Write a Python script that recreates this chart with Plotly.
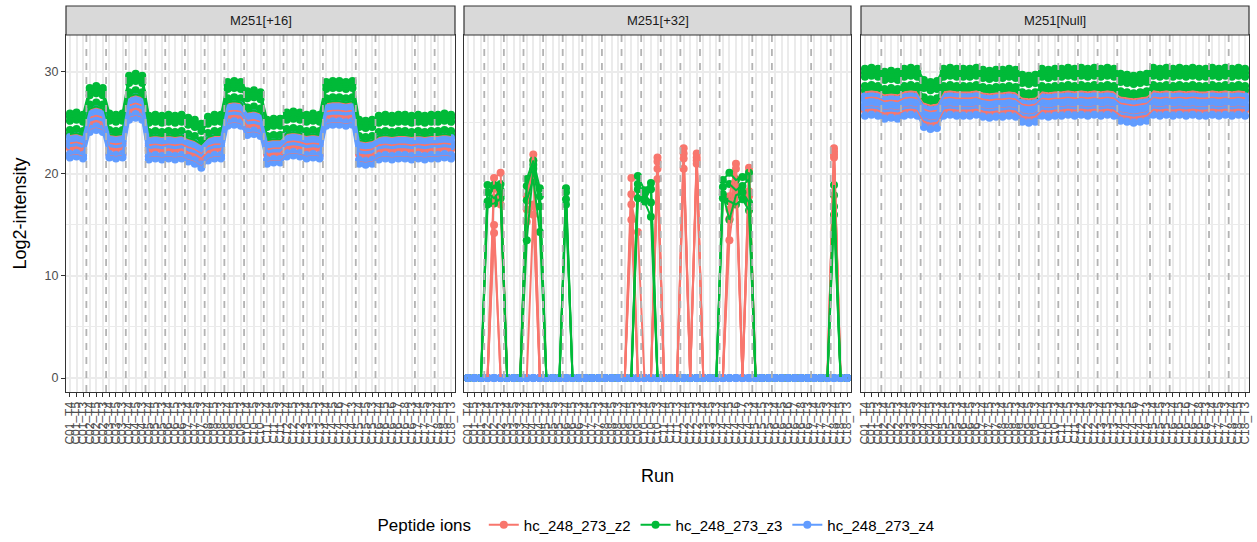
import plotly.graph_objects as go

# Runs in acquisition order (condition, then replicate)
run_labels = [
    "C01_T4", "C01_T5", "C01_T3",
    "C02_T4", "C02_T5", "C02_T3",
    "C03_T4", "C03_T5", "C03_T3",
    "C04_T4", "C04_T5", "C04_T3",
    "C05_T4", "C05_T5", "C05_T3",
    "C06_T4", "C06_T5", "C06_T3",
    "C07_T4", "C07_T5", "C07_T3",
    "C08_T4", "C08_T5", "C08_T3",
    "C09_T4", "C09_T5", "C09_T3",
    "C10_T4", "C10_T5", "C10_T3",
    "C11_T4", "C11_T5", "C11_T3",
    "C12_T4", "C12_T5", "C12_T3",
    "C13_T4", "C13_T5", "C13_T3",
    "C14_T4", "C14_T5", "C14_T6", "C14_T7", "C14_T3",
    "C15_T4", "C15_T5", "C15_T3",
    "C16_T4", "C16_T5", "C16_T6", "C16_T7", "C16_T8", "C16_T3",
    "C17_T4", "C17_T5", "C17_T3",
    "C18_T4", "C18_T5", "C18_T3",
]
runs_per_condition = [3, 3, 3, 3, 3, 3, 3, 3, 3, 3, 3, 3, 3, 5, 3, 6, 3, 3]

ions = ["hc_248_273_z2", "hc_248_273_z3", "hc_248_273_z4"]
ion_colors = ["#F8766D", "#00BA38", "#619CFF"]
panel_titles = ["M251[+16]", "M251[+32]", "M251[Null]"]

# ---- M251[+16]: feature baselines per ion and run-level shift ----
m16_levels = {
    "hc_248_273_z2": [23.8, 23.0, 22.5, 21.9],
    "hc_248_273_z3": [25.9, 25.6, 25.2, 24.3, 23.9],
    "hc_248_273_z4": [23.6, 23.2, 22.8, 21.95, 21.6],
}
m16_run_shift = [
    0.0, 0.1, -0.1,
    2.5, 2.7, 2.5,
    0.0, -0.1, 0.0,
    3.7, 3.9, 3.7,
    -0.2, -0.1, -0.2,
    -0.1, -0.2, -0.1,
    -0.4, -0.6, -1.0,
    -0.3, -0.1, -0.1,
    3.1, 3.2, 3.1,
    2.2, 2.3, 2.1,
    -0.6, -0.5, -0.5,
    0.1, 0.2, 0.1,
    -0.1, 0.0, -0.1,
    3.1, 3.2, 3.2, 3.1, 3.2,
    -0.6, -0.7, -0.6,
    -0.2, -0.1, -0.2, -0.1, -0.1, -0.2,
    -0.1, -0.2, -0.1,
    -0.1, 0.0, -0.1,
]

# ---- M251[Null]: feature baselines per ion and run-level shift ----
null_levels = {
    "hc_248_273_z2": [28.0, 27.4, 26.5, 26.2],
    "hc_248_273_z3": [30.3, 29.9, 29.5, 28.6, 28.2],
    "hc_248_273_z4": [27.6, 27.2, 26.8, 26.45, 25.7],
}
null_run_shift = [
    0.0, 0.1, 0.0,
    -0.3, -0.2, -0.3,
    0.0, 0.1, 0.0,
    -1.1, -1.3, -1.2,
    0.0, 0.1, 0.0,
    0.0, 0.0, 0.1,
    -0.1, -0.2, -0.1,
    -0.1, 0.0, -0.1,
    -0.6, -0.7, -0.6,
    0.0, -0.1, 0.0,
    0.0, 0.1, 0.0,
    0.1, 0.0, 0.1,
    0.0, 0.1, 0.0,
    -0.5, -0.6, -0.7, -0.6, -0.5,
    0.1, 0.0, 0.1,
    0.0, 0.1, 0.0, 0.1, 0.0, 0.0,
    0.1, 0.0, 0.1,
    0.0, 0.1, 0.0,
]

# ---- M251[+32]: detected intensities only (all other runs are 0) ----
m32_z2 = [
    {"C02_T5": 19.6, "C02_T3": 20.1, "C04_T4": 17.8, "C04_T5": 21.9, "C09_T5": 19.6,
     "C10_T3": 21.6, "C12_T4": 22.5, "C12_T3": 22.0, "C14_T5": 17.8, "C14_T6": 21.0,
     "C14_T3": 20.6, "C18_T4": 22.5},
    {"C02_T5": 18.8, "C02_T3": 17.0, "C04_T4": 16.5, "C04_T5": 21.3, "C09_T5": 18.0,
     "C10_T3": 21.2, "C12_T4": 22.0, "C12_T3": 21.6, "C14_T5": 16.5, "C14_T6": 20.5,
     "C14_T3": 20.2, "C18_T4": 22.2},
    {"C02_T5": 15.0, "C04_T4": 15.3, "C04_T5": 17.0, "C09_T5": 17.0, "C09_T3": 14.3,
     "C10_T3": 20.5, "C12_T4": 21.5, "C12_T3": 21.3, "C14_T5": 15.6, "C14_T6": 19.5,
     "C14_T3": 18.3, "C18_T4": 21.9},
    {"C02_T5": 14.2, "C04_T5": 16.0, "C09_T5": 15.5, "C10_T3": 19.5, "C12_T4": 20.5,
     "C12_T3": 21.0, "C14_T5": 13.5, "C14_T6": 18.8, "C14_T3": 17.8, "C18_T4": 21.6},
]
m32_z3 = [
    {"C02_T4": 18.9, "C02_T5": 18.6, "C02_T3": 19.0, "C04_T4": 19.5, "C04_T5": 21.3,
     "C04_T3": 18.6, "C06_T4": 18.6, "C09_T3": 19.8, "C10_T4": 18.4, "C10_T5": 19.1,
     "C14_T4": 19.4, "C14_T5": 20.1, "C14_T6": 19.4, "C14_T7": 19.7, "C14_T3": 20.1,
     "C18_T4": 18.9},
    {"C02_T4": 17.3, "C02_T5": 18.9, "C02_T3": 17.9, "C04_T4": 18.8, "C04_T5": 20.9,
     "C04_T3": 17.8, "C06_T4": 18.2, "C09_T3": 19.0, "C10_T4": 17.5, "C10_T5": 18.5,
     "C14_T4": 18.7, "C14_T5": 19.0, "C14_T6": 18.4, "C14_T7": 18.8, "C14_T3": 19.5,
     "C18_T4": 17.9},
    {"C02_T4": 18.2, "C02_T5": 17.6, "C02_T3": 18.4, "C04_T4": 13.5, "C04_T5": 20.5,
     "C04_T3": 16.8, "C06_T4": 17.5, "C09_T3": 18.5, "C10_T4": 18.0, "C10_T5": 17.2,
     "C14_T4": 18.0, "C14_T5": 15.5, "C14_T6": 17.9, "C14_T7": 18.2, "C14_T3": 17.2,
     "C18_T4": 16.8},
    {"C02_T4": 17.0, "C02_T5": 17.1, "C02_T3": 17.6, "C04_T4": 17.4, "C04_T5": 19.5,
     "C04_T3": 14.3, "C06_T4": 17.0, "C09_T3": 17.6, "C10_T4": 17.3, "C10_T5": 15.8,
     "C14_T4": 17.6, "C14_T5": 17.3, "C14_T6": 17.0, "C14_T7": 17.5, "C14_T3": 16.4,
     "C18_T4": 16.0},
]
m32_z4 = [{}, {}, {}, {}]

n_runs = len(run_labels)
x_idx = list(range(n_runs))


def additive(levels, shift):
    return [[lv + s for s in shift] for lv in levels]


def sparse(feature):
    return [feature.get(r, 0.0) for r in run_labels]


panel_data = [
    {ion: additive(m16_levels[ion], m16_run_shift) for ion in ions},
    {ions[0]: [sparse(f) for f in m32_z2],
     ions[1]: [sparse(f) for f in m32_z3],
     ions[2]: [sparse(f) for f in m32_z4]},
    {ion: additive(null_levels[ion], null_run_shift) for ion in ions},
]

FONT = "Liberation Sans, Arial, sans-serif"
LINE_W = 2.0
POINT_SIZE = 8

# layout geometry (plot area fractions)
W = 1257 - 66 - 8
H = 542 - 35 - 150
domains = [[0, 389 / W], [398 / W, 785 / W], [795 / W, 1.0]]
y_range = [-1.37, 33.6]
x_range = [-0.6, n_runs - 1 + 0.6]

fig = go.Figure()
# points first, then the connecting lines on top of all points
for layer in ("markers", "lines"):
    for p in range(3):
        xa = "x" if p == 0 else f"x{p + 1}"
        ya = "y" if p == 0 else f"y{p + 1}"
        for ion, col in zip(ions, ion_colors):
            for vals in panel_data[p][ion]:
                fig.add_trace(go.Scatter(
                    x=x_idx, y=vals, xaxis=xa, yaxis=ya, mode=layer,
                    line=dict(color=col, width=LINE_W),
                    marker=dict(color=col, size=POINT_SIZE),
                    name=ion, legendgroup=ion, showlegend=False, hoverinfo="skip",
                ))

# legend keys (line with point)
for ion, col in zip(ions, ion_colors):
    fig.add_trace(go.Scatter(
        x=[None], y=[None], mode="lines+markers", name=ion, legendgroup=ion,
        line=dict(color=col, width=LINE_W), marker=dict(color=col, size=POINT_SIZE),
        showlegend=True, hoverinfo="skip",
    ))

axis_font = dict(family=FONT, size=12, color="#4D4D4D")
for p in range(3):
    sfx = "" if p == 0 else str(p + 1)
    fig.layout["xaxis" + sfx] = dict(
        domain=domains[p], anchor="y" + sfx, range=x_range, automargin=False,
        tickmode="array", tickvals=x_idx, ticktext=run_labels, tickangle=-90,
        tickfont=axis_font, ticks="outside", ticklen=4, tickcolor="#333333",
        showgrid=True, gridcolor="#EBEBEB", gridwidth=1.6,
        showline=True, linecolor="#333333", linewidth=1.2, mirror=True,
        zeroline=False, fixedrange=True,
    )
    fig.layout["yaxis" + sfx] = dict(
        domain=[0, 1], anchor="x" + sfx, range=y_range, automargin=False,
        tickmode="array", tickvals=[0, 10, 20, 30],
        showticklabels=(p == 0), tickfont=dict(family=FONT, size=12.5, color="#4D4D4D"),
        ticks="outside" if p == 0 else "", ticklen=4, tickcolor="#333333",
        showgrid=True, gridcolor="#EBEBEB", gridwidth=1.6,
        minor=dict(dtick=5, tick0=0, showgrid=True, gridcolor="#EBEBEB", gridwidth=0.9),
        showline=True, linecolor="#333333", linewidth=1.2, mirror=True,
        zeroline=False, fixedrange=True,
    )

# condition boundaries
shapes = []
bounds = []
acc = 0
for n in runs_per_condition[:-1]:
    acc += n
    bounds.append(acc - 0.5)
for p in range(3):
    xa = "x" if p == 0 else f"x{p + 1}"
    for b in bounds:
        shapes.append(dict(type="line", xref=xa, yref="paper", x0=b, x1=b, y0=0, y1=1,
                           line=dict(color="#B3B3B3", width=1.8, dash="7px,7px"), layer="above"))

# facet strips
strip_top = (392 - 6) / H
annotations = []
for p in range(3):
    x0 = domains[p][0]
    x1 = domains[p][1]
    shapes.append(dict(type="rect", xref="paper", yref="paper", x0=x0, x1=x1, y0=1.0, y1=strip_top,
                       fillcolor="#D9D9D9", line=dict(color="#333333", width=1.2), layer="above"))
    annotations.append(dict(x=(x0 + x1) / 2, y=(1.0 + strip_top) / 2, xref="paper", yref="paper",
                            text=panel_titles[p], showarrow=False,
                            font=dict(family=FONT, size=13, color="#1A1A1A"),
                            xanchor="center", yanchor="middle"))

annotations.append(dict(x=0.5, y=(392 - 476) / H, xref="paper", yref="paper", text="Run",
                        showarrow=False, xanchor="center", yanchor="middle",
                        font=dict(family=FONT, size=18, color="black")))
annotations.append(dict(x=(19 - 66) / W, y=0.5, xref="paper", yref="paper", text="Log2-intensity",
                        showarrow=False, textangle=-90, xanchor="center", yanchor="middle",
                        font=dict(family=FONT, size=18, color="black")))

fig.update_layout(
    width=1257, height=542,
    margin=dict(l=66, r=8, t=35, b=150),
    paper_bgcolor="white", plot_bgcolor="white",
    shapes=shapes, annotations=annotations,
    showlegend=True,
    legend=dict(orientation="h", x=0.5, xanchor="center", yref="container",
                y=1 - 525 / 542, yanchor="middle",
                title=dict(text="Peptide ions ", side="left",
                           font=dict(family=FONT, size=17, color="black")),
                font=dict(family=FONT, size=15, color="black"),
                bgcolor="rgba(0,0,0,0)"),
)

fig.write_html("out.html")
